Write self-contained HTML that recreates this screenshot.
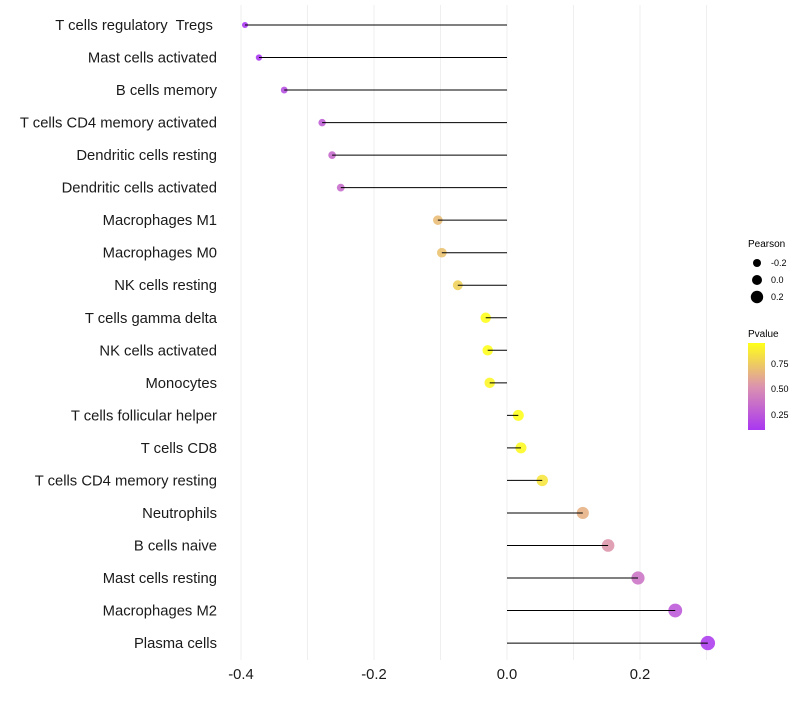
<!DOCTYPE html>
<html><head><meta charset="utf-8"><style>
body{margin:0;background:#fff;font-family:"Liberation Sans",sans-serif}
text{white-space:pre}
</style></head><body>
<svg id="chart" width="800" height="700" xmlns="http://www.w3.org/2000/svg">
<defs><linearGradient id="pg" x1="0" y1="1" x2="0" y2="0">
<stop offset="0" stop-color="#a020f0"/><stop offset="0.5" stop-color="#d887a6"/><stop offset="1" stop-color="#ffff00"/></linearGradient></defs>
<g id="grid"></g><g id="dots"></g><g id="stems"></g><g id="ylab"></g><g id="xlab"></g>
<g font-size="9" fill="#000">
<text x="748" y="247" font-size="10">Pearson</text>
<circle cx="757" cy="263" r="4"/><text x="771" y="266">-0.2</text>
<circle cx="757" cy="280" r="5"/><text x="771" y="283">0.0</text>
<circle cx="757" cy="297" r="6.2"/><text x="771" y="300">0.2</text>
</g>
<g font-size="9">
<text x="748" y="337" font-size="10">Pvalue</text>
<rect x="748" y="343" width="17" height="87" fill="url(#pg)" opacity="0.9"/>
<text x="771" y="367">0.75</text>
<text x="771" y="392">0.50</text>
<text x="771" y="418">0.25</text>
</g>
</svg>
<script>
const cells=["T cells regulatory  Tregs ","Mast cells activated","B cells memory","T cells CD4 memory activated","Dendritic cells resting","Dendritic cells activated","Macrophages M1","Macrophages M0","NK cells resting","T cells gamma delta","NK cells activated","Monocytes","T cells follicular helper","T cells CD8","T cells CD4 memory resting","Neutrophils","B cells naive","Mast cells resting","Macrophages M2","Plasma cells"];
const pearson=[-0.394,-0.373,-0.335,-0.278,-0.263,-0.250,-0.104,-0.098,-0.074,-0.032,-0.029,-0.026,0.017,0.021,0.053,0.114,0.152,0.197,0.253,0.302];
const pvalue=[0.10,0.12,0.22,0.30,0.35,0.36,0.70,0.72,0.78,0.96,0.96,0.93,0.96,0.94,0.86,0.66,0.55,0.40,0.28,0.15];
const xticks=[-0.4,-0.2,0.0,0.2];
const xtickLabels=["-0.4","-0.2","0.0","0.2"];
const NS="http://www.w3.org/2000/svg";
const X=v=>507+v*665;
const Y=i=>25+i*32.53;
const R=p=>Math.max(1.8,5.4+6*p);
function col(p){const t=Math.min(1,Math.max(0,(p-0.12)/0.84));
const a=[160,32,240],m=[216,135,166],b=[255,255,0];let c;
if(t<0.5){const u=t/0.5;c=a.map((v,k)=>v+(m[k]-v)*u);}else{const u=(t-0.5)/0.5;c=m.map((v,k)=>v+(b[k]-v)*u);}
return `rgb(${c.map(Math.round).join(',')})`;}
function mk(tag,at,par){const e=document.createElementNS(NS,tag);for(const k in at)e.setAttribute(k,at[k]);document.getElementById(par).appendChild(e);return e;}
[-0.4,-0.3,-0.2,-0.1,0,0.1,0.2,0.3].forEach(v=>{const l=mk('line',{x1:X(v),x2:X(v),y1:5,y2:660,stroke:'#efefef','stroke-width':1},'grid');

});
cells.forEach((c,i)=>{
const d=mk('circle',{cx:X(pearson[i]),cy:Y(i),r:R(pearson[i]),fill:col(pvalue[i]),'fill-opacity':0.8},'dots');


const l=mk('line',{x1:X(0),x2:X(pearson[i]),y1:Y(i),y2:Y(i),stroke:'#000','stroke-width':1},'stems');


const t=mk('text',{x:217,y:Y(i)+5,'text-anchor':'end','font-size':14.8,fill:'#1a1a1a'},'ylab');t.textContent=c;


});
xticks.forEach((v,i)=>{const t=mk('text',{x:X(v),y:679,'text-anchor':'middle','font-size':14.8,fill:'#1a1a1a'},'xlab');t.textContent=xtickLabels[i];

});
</script>
</body></html>
